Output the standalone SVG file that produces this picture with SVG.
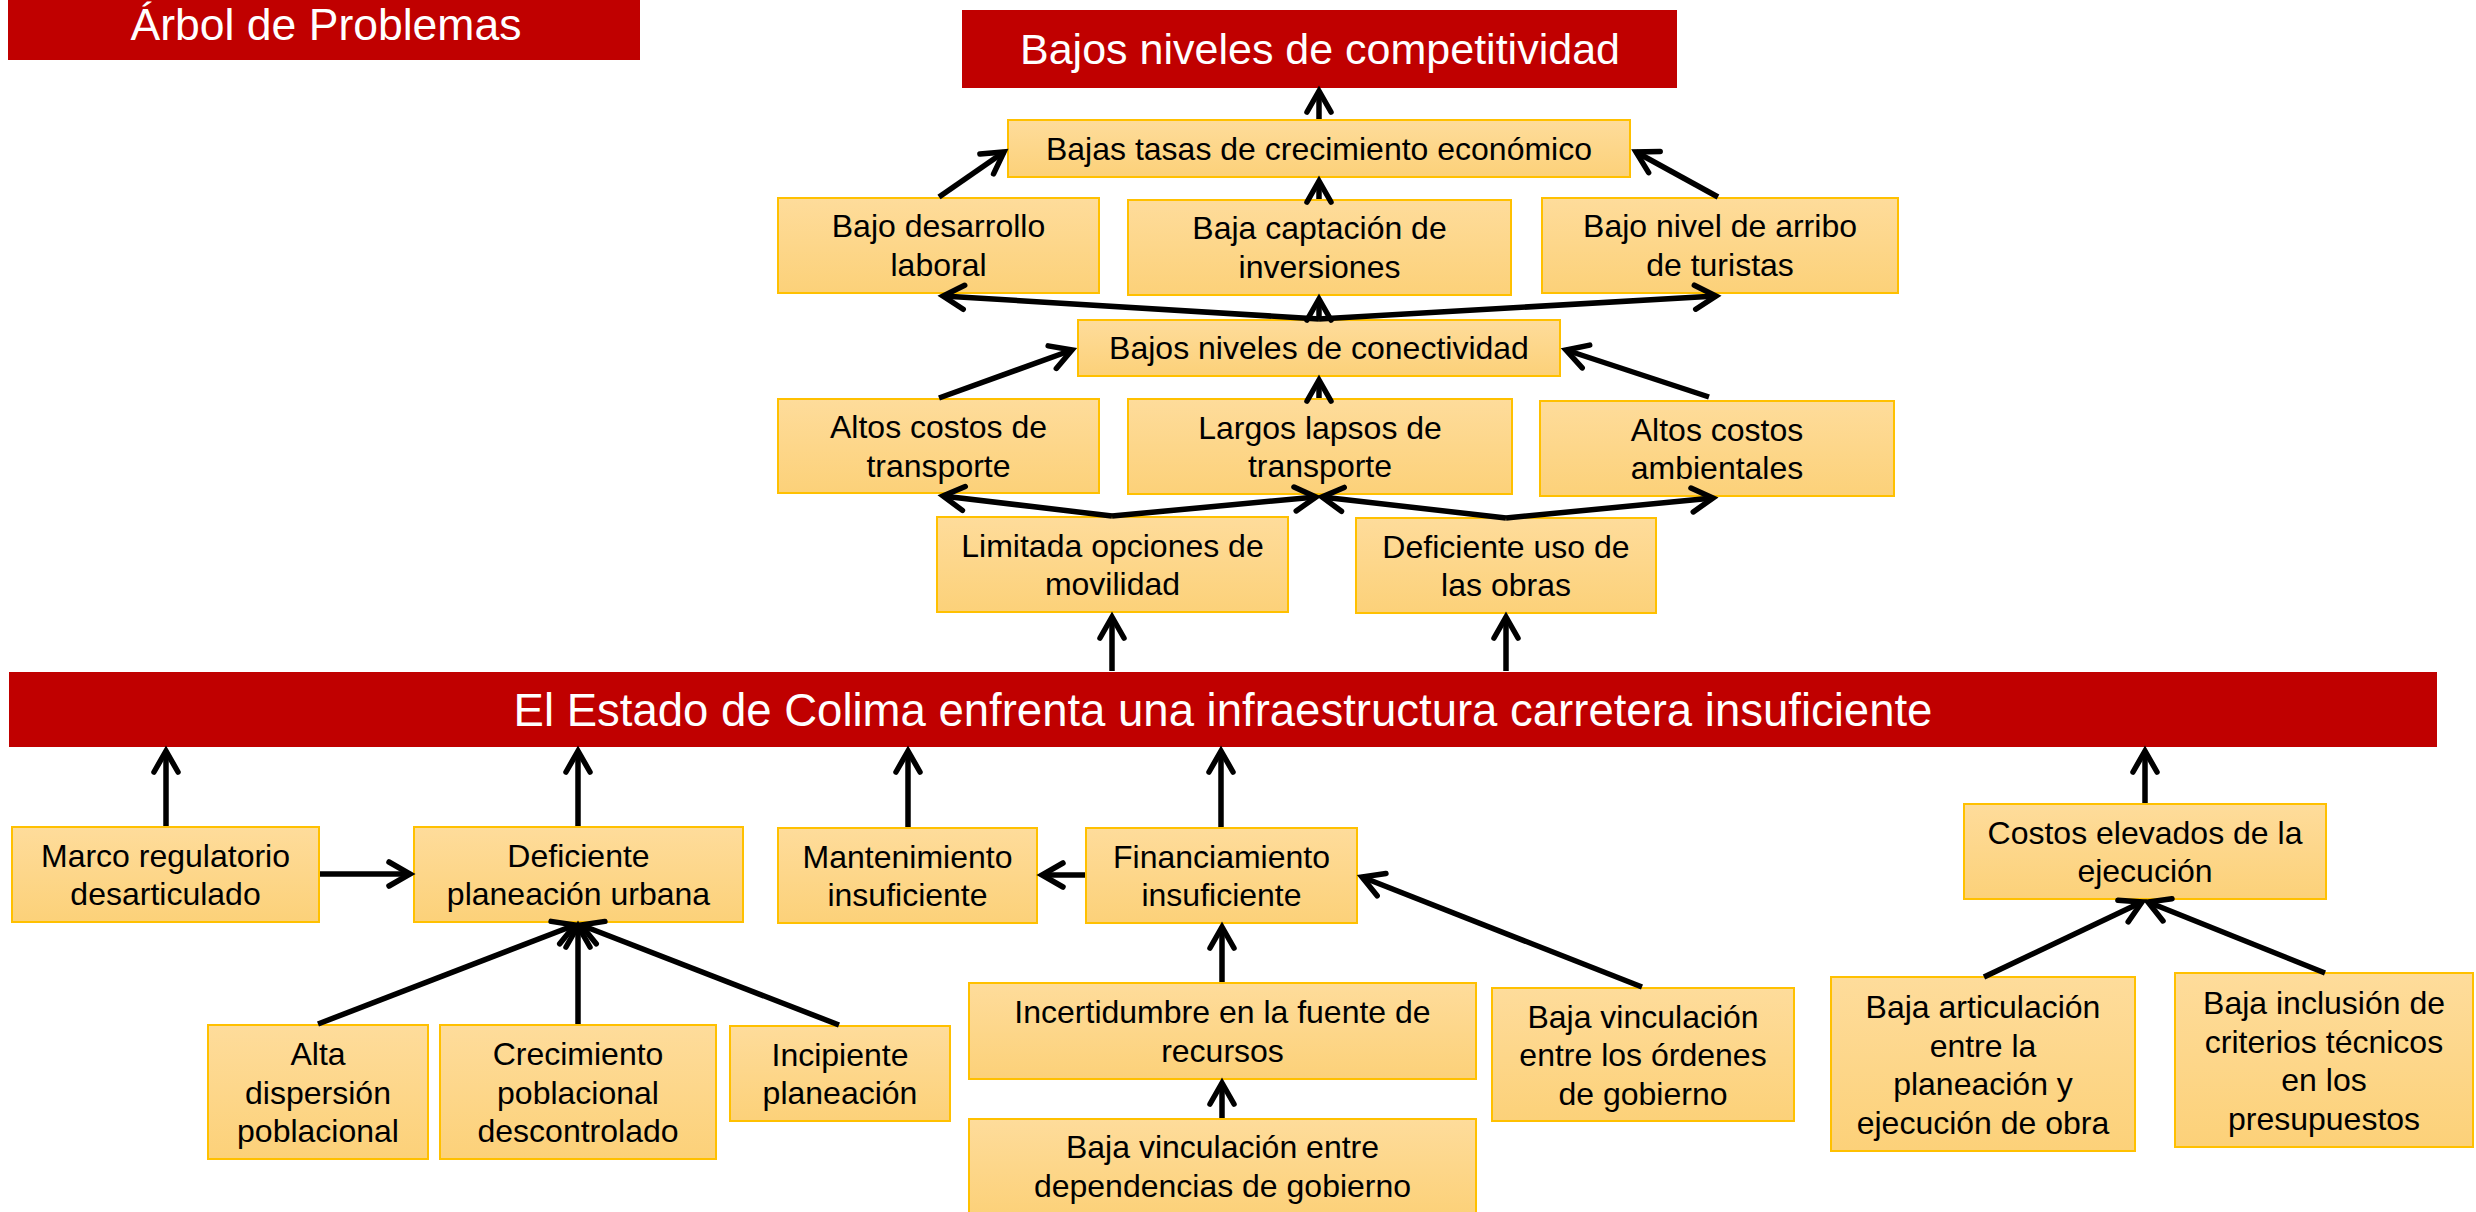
<svg xmlns="http://www.w3.org/2000/svg" width="2476" height="1212" viewBox="0 0 2476 1212">
<defs>
<linearGradient id="g" x1="0" y1="0" x2="0" y2="1">
<stop offset="0" stop-color="#FEDC9B"/>
<stop offset="1" stop-color="#FCD179"/>
</linearGradient>
<marker id="ah" markerUnits="userSpaceOnUse" markerWidth="40" markerHeight="40" viewBox="0 0 40 40" refX="30" refY="20" orient="auto" overflow="visible">
<path d="M9,8 L30,20 L9,32" fill="none" stroke="#000" stroke-width="5.5" stroke-linecap="round" stroke-linejoin="miter"/>
</marker>
<style>
.box{fill:url(#g);stroke:#FFC000;stroke-width:2}
.red{fill:#C00000}
.t{font-family:"Liberation Sans",Arial,sans-serif;font-size:32px;text-anchor:middle;fill:#000}
.w{font-family:"Liberation Sans",Arial,sans-serif;text-anchor:middle;fill:#fff}
.c path{fill:none;stroke:#000;stroke-width:5.5;marker-end:url(#ah)}
</style>
</defs>
<rect width="2476" height="1212" fill="#fff"/>

<g id="titulo"><rect class="red" x="8" y="0" width="632" height="60"/><text class="w" x="326" y="40" font-size="44.5">Árbol de Problemas</text></g>
<g id="competitividad"><rect class="red" x="962" y="10" width="715" height="78"/><text class="w" x="1320" y="64" font-size="43">Bajos niveles de competitividad</text></g>
<g id="problema"><rect class="red" x="9" y="672" width="2428" height="75"/><text class="w" x="1223" y="726" font-size="45.5">El Estado de Colima enfrenta una infraestructura carretera insuficiente</text></g>

<g id="crecimiento-economico"><rect class="box" x="1008" y="120" width="622" height="57"/><text class="t" x="1319" y="160">Bajas tasas de crecimiento económico</text></g>
<g id="desarrollo-laboral"><rect class="box" x="778" y="198" width="321" height="95"/><text class="t"><tspan x="938.5" y="237">Bajo desarrollo</tspan><tspan x="938.5" y="276">laboral</tspan></text></g>
<g id="captacion"><rect class="box" x="1128" y="200" width="383" height="95"/><text class="t"><tspan x="1319.5" y="239">Baja captación de</tspan><tspan x="1319.5" y="278">inversiones</tspan></text></g>
<g id="turistas"><rect class="box" x="1542" y="198" width="356" height="95"/><text class="t"><tspan x="1720" y="237">Bajo nivel de arribo</tspan><tspan x="1720" y="276">de turistas</tspan></text></g>
<g id="conectividad"><rect class="box" x="1078" y="320" width="482" height="56"/><text class="t" x="1319" y="359">Bajos niveles de conectividad</text></g>
<g id="costos-transporte"><rect class="box" x="778" y="399" width="321" height="94"/><text class="t"><tspan x="938.5" y="438">Altos costos de</tspan><tspan x="938.5" y="476.5">transporte</tspan></text></g>
<g id="lapsos-transporte"><rect class="box" x="1128" y="399" width="384" height="95"/><text class="t"><tspan x="1320" y="438.5">Largos lapsos de</tspan><tspan x="1320" y="477">transporte</tspan></text></g>
<g id="costos-ambientales"><rect class="box" x="1540" y="401" width="354" height="95"/><text class="t"><tspan x="1717" y="441">Altos costos</tspan><tspan x="1717" y="479">ambientales</tspan></text></g>
<g id="movilidad"><rect class="box" x="937" y="517" width="351" height="95"/><text class="t"><tspan x="1112.5" y="556.5">Limitada opciones de</tspan><tspan x="1112.5" y="595">movilidad</tspan></text></g>
<g id="uso-obras"><rect class="box" x="1356" y="518" width="300" height="95"/><text class="t"><tspan x="1506" y="557.5">Deficiente uso de</tspan><tspan x="1506" y="596">las obras</tspan></text></g>

<g id="marco"><rect class="box" x="12" y="827" width="307" height="95"/><text class="t"><tspan x="165.5" y="866.5">Marco regulatorio</tspan><tspan x="165.5" y="905">desarticulado</tspan></text></g>
<g id="planeacion-urbana"><rect class="box" x="414" y="827" width="329" height="95"/><text class="t"><tspan x="578.5" y="866.5">Deficiente</tspan><tspan x="578.5" y="905">planeación urbana</tspan></text></g>
<g id="mantenimiento"><rect class="box" x="778" y="828" width="259" height="95"/><text class="t"><tspan x="907.5" y="867.5">Mantenimiento</tspan><tspan x="907.5" y="906">insuficiente</tspan></text></g>
<g id="financiamiento"><rect class="box" x="1086" y="828" width="271" height="95"/><text class="t"><tspan x="1221.5" y="867.5">Financiamiento</tspan><tspan x="1221.5" y="906">insuficiente</tspan></text></g>
<g id="costos-ejecucion"><rect class="box" x="1964" y="804" width="362" height="95"/><text class="t"><tspan x="2145" y="843.5">Costos elevados de la</tspan><tspan x="2145" y="882">ejecución</tspan></text></g>

<g id="dispersion"><rect class="box" x="208" y="1025" width="220" height="134"/><text class="t"><tspan x="318" y="1065">Alta</tspan><tspan x="318" y="1103.5">dispersión</tspan><tspan x="318" y="1142">poblacional</tspan></text></g>
<g id="crecimiento-poblacional"><rect class="box" x="440" y="1025" width="276" height="134"/><text class="t"><tspan x="578" y="1065">Crecimiento</tspan><tspan x="578" y="1103.5">poblacional</tspan><tspan x="578" y="1142">descontrolado</tspan></text></g>
<g id="incipiente"><rect class="box" x="730" y="1026" width="220" height="95"/><text class="t"><tspan x="840" y="1065.5">Incipiente</tspan><tspan x="840" y="1104">planeación</tspan></text></g>
<g id="incertidumbre"><rect class="box" x="969" y="983" width="507" height="96"/><text class="t"><tspan x="1222.5" y="1023">Incertidumbre en la fuente de</tspan><tspan x="1222.5" y="1061.5">recursos</tspan></text></g>
<g id="dependencias"><rect class="box" x="969" y="1119" width="507" height="96"/><text class="t"><tspan x="1222.5" y="1158">Baja vinculación entre</tspan><tspan x="1222.5" y="1196.5">dependencias de gobierno</tspan></text></g>
<g id="ordenes"><rect class="box" x="1492" y="988" width="302" height="133"/><text class="t"><tspan x="1643" y="1027.5">Baja vinculación</tspan><tspan x="1643" y="1066">entre los órdenes</tspan><tspan x="1643" y="1104.5">de gobierno</tspan></text></g>
<g id="articulacion"><rect class="box" x="1831" y="977" width="304" height="174"/><text class="t"><tspan x="1983" y="1018">Baja articulación</tspan><tspan x="1983" y="1056.5">entre la</tspan><tspan x="1983" y="1095">planeación y</tspan><tspan x="1983" y="1133.5">ejecución de obra</tspan></text></g>
<g id="criterios"><rect class="box" x="2175" y="973" width="298" height="174"/><text class="t"><tspan x="2324" y="1014">Baja inclusión de</tspan><tspan x="2324" y="1052.5">criterios técnicos</tspan><tspan x="2324" y="1091">en los</tspan><tspan x="2324" y="1129.5">presupuestos</tspan></text></g>

<g id="conectores" class="c">
<path d="M1319,119 L1319,91"/>
<path d="M939,197 L1004,152"/>
<path d="M1718,197 L1636,152"/>
<path d="M1319,199 L1319,181"/>
<path d="M1319,319 L943,296"/>
<path d="M1319,319 L1319,299"/>
<path d="M1319,319 L1716,296"/>
<path d="M939,398 L1072,350"/>
<path d="M1709,397 L1566,350"/>
<path d="M1319,398 L1319,380"/>
<path d="M1112,516 L943,496"/>
<path d="M1112,516 L1316,497"/>
<path d="M1506,518 L1322,497"/>
<path d="M1506,518 L1713,498"/>
<path d="M1112,671 L1112,617"/>
<path d="M1506,671 L1506,617"/>
<path d="M166,826 L166,751"/>
<path d="M578,826 L578,751"/>
<path d="M908,827 L908,751"/>
<path d="M1221,827 L1221,751"/>
<path d="M2145,803 L2145,751"/>
<path d="M320,874 L410,874"/>
<path d="M1085,875 L1042,875"/>
<path d="M318,1024 L575,925"/>
<path d="M578,1024 L578,926"/>
<path d="M839,1025 L581,925"/>
<path d="M1222,982 L1222,927"/>
<path d="M1222,1118 L1222,1083"/>
<path d="M1642,987 L1362,877"/>
<path d="M1984,977 L2142,902"/>
<path d="M2325,973 L2148,902"/>
</g>
</svg>
